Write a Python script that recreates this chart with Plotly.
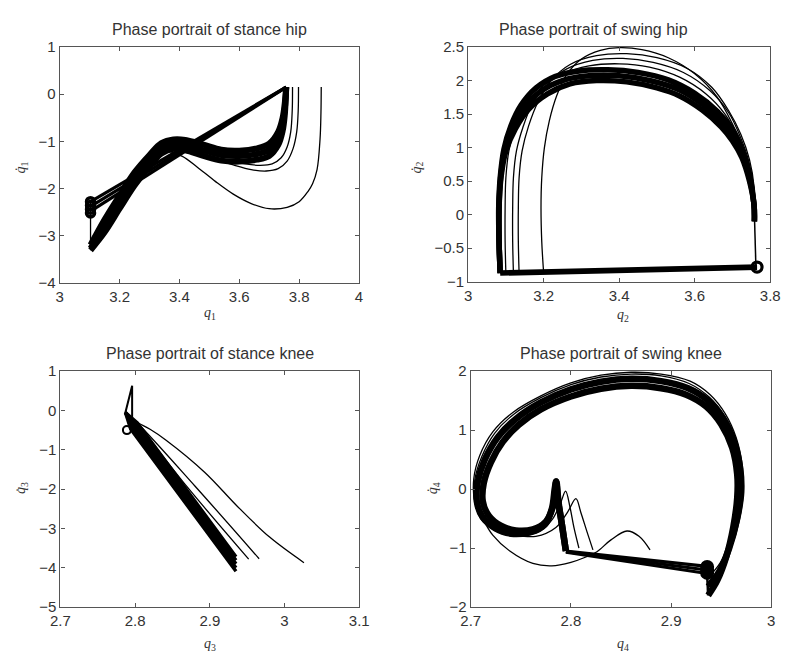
import plotly.graph_objects as go

# ---------------- Stance hip (q1) ----------------
st_hip_fan_start_x = [3.106, 3.106, 3.106]
st_hip_fan_start_y = [-2.27, -2.37, -2.47]
st_hip_tip_x = 3.757
st_hip_tip_y = 0.15

st_hip_band_x = [3.757, 3.752, 3.745, 3.73, 3.70, 3.66, 3.60, 3.54, 3.48, 3.42, 3.38, 3.34, 3.30, 3.25, 3.20, 3.15, 3.103]
st_hip_band_hi_y = [0.15, -0.2, -0.5, -0.8, -1.05, -1.15, -1.2, -1.18, -1.07, -0.97, -0.96, -1.04, -1.29, -1.66, -2.15, -2.66, -3.2]
st_hip_band_mid_y = [0.15, -0.33, -0.63, -0.94, -1.18, -1.27, -1.31, -1.29, -1.19, -1.08, -1.06, -1.15, -1.41, -1.8, -2.29, -2.8, -3.27]
st_hip_band_lo_y = [0.15, -0.45, -0.78, -1.08, -1.31, -1.39, -1.43, -1.41, -1.31, -1.19, -1.16, -1.26, -1.53, -1.94, -2.43, -2.93, -3.31]

st_hip_t1_x = [3.778, 3.777, 3.772, 3.76, 3.74, 3.71, 3.67, 3.62, 3.56, 3.50, 3.45, 3.41]
st_hip_t1_y = [0.15, -0.35, -0.8, -1.12, -1.35, -1.48, -1.51, -1.48, -1.4, -1.3, -1.2, -1.1]
st_hip_t2_x = [3.798, 3.797, 3.792, 3.78, 3.76, 3.73, 3.69, 3.64, 3.58, 3.51, 3.45, 3.40]
st_hip_t2_y = [0.15, -0.35, -0.8, -1.15, -1.42, -1.58, -1.63, -1.6, -1.5, -1.36, -1.24, -1.12]
st_hip_t3_x = [3.874, 3.873, 3.87, 3.86, 3.845, 3.83, 3.80, 3.76, 3.70, 3.64, 3.58, 3.52, 3.46, 3.41, 3.37]
st_hip_t3_y = [0.15, -0.4, -0.95, -1.6, -1.9, -2.06, -2.28, -2.4, -2.43, -2.32, -2.12, -1.85, -1.55, -1.32, -1.24]

st_hip_jump_x = [3.103, 3.103]
st_hip_jump_y = [-3.31, -2.25]
st_hip_start_x = [3.103, 3.103, 3.103, 3.103]
st_hip_start_y = [-2.28, -2.36, -2.44, -2.52]

# ---------------- Swing hip (q2) ----------------
sw_hip_base1_x = [3.085, 3.765]
sw_hip_base1_y = [-0.855, -0.765]
sw_hip_base2_x = [3.085, 3.765]
sw_hip_base2_y = [-0.885, -0.80]

sw_hip_lb1_x = [3.085, 3.082, 3.082, 3.087, 3.10, 3.125, 3.16, 3.21, 3.27, 3.34, 3.42, 3.50, 3.56, 3.62, 3.67, 3.70, 3.725, 3.745, 3.757, 3.758]
sw_hip_lb1_y = [-0.87, -0.4, 0.1, 0.55, 0.95, 1.28, 1.57, 1.8, 1.95, 2.0, 1.98, 1.89, 1.77, 1.56, 1.31, 1.1, 0.85, 0.5, 0.15, -0.1]
sw_hip_lb2_x = [3.085, 3.082, 3.082, 3.086, 3.098, 3.12, 3.15, 3.195, 3.25, 3.32, 3.40, 3.48, 3.56, 3.62, 3.67, 3.70, 3.725, 3.745, 3.757, 3.758]
sw_hip_lb2_y = [-0.87, -0.4, 0.1, 0.55, 0.97, 1.3, 1.6, 1.85, 2.0, 2.07, 2.07, 2.0, 1.86, 1.65, 1.4, 1.18, 0.92, 0.55, 0.15, -0.1]
sw_hip_lb3_x = [3.085, 3.082, 3.081, 3.085, 3.095, 3.113, 3.14, 3.18, 3.23, 3.29, 3.37, 3.45, 3.53, 3.60, 3.66, 3.70, 3.725, 3.745, 3.757, 3.758]
sw_hip_lb3_y = [-0.87, -0.4, 0.1, 0.55, 0.98, 1.32, 1.63, 1.89, 2.06, 2.14, 2.16, 2.12, 2.01, 1.81, 1.54, 1.27, 0.98, 0.6, 0.15, -0.1]

sw_hip_tc1_x = [3.10, 3.098, 3.098, 3.10, 3.108, 3.125, 3.155, 3.195, 3.25, 3.32, 3.40, 3.48, 3.56, 3.63, 3.68, 3.715, 3.74, 3.755, 3.758]
sw_hip_tc1_y = [-0.87, -0.4, 0.1, 0.55, 0.95, 1.3, 1.62, 1.9, 2.1, 2.22, 2.25, 2.2, 2.05, 1.8, 1.5, 1.15, 0.8, 0.4, 0.0]
sw_hip_tc2_x = [3.12, 3.118, 3.118, 3.12, 3.128, 3.145, 3.17, 3.21, 3.26, 3.33, 3.41, 3.49, 3.57, 3.64, 3.69, 3.72, 3.743, 3.756, 3.758]
sw_hip_tc2_y = [-0.87, -0.4, 0.1, 0.55, 0.95, 1.3, 1.65, 1.95, 2.17, 2.3, 2.33, 2.27, 2.12, 1.85, 1.52, 1.17, 0.8, 0.4, 0.0]
sw_hip_tc3_x = [3.135, 3.133, 3.133, 3.135, 3.143, 3.16, 3.185, 3.22, 3.27, 3.34, 3.42, 3.50, 3.58, 3.645, 3.69, 3.722, 3.745, 3.757, 3.758]
sw_hip_tc3_y = [-0.87, -0.4, 0.1, 0.55, 0.95, 1.32, 1.68, 2.0, 2.24, 2.37, 2.4, 2.34, 2.18, 1.9, 1.55, 1.2, 0.82, 0.42, 0.0]
sw_hip_tt_x = [3.2, 3.195, 3.193, 3.195, 3.202, 3.215, 3.235, 3.26, 3.30, 3.35, 3.40, 3.46, 3.53, 3.60, 3.66, 3.70, 3.73, 3.75, 3.758]
sw_hip_tt_y = [-0.87, -0.4, 0.1, 0.55, 1.0, 1.4, 1.78, 2.08, 2.32, 2.45, 2.49, 2.46, 2.34, 2.1, 1.75, 1.35, 0.95, 0.5, 0.0]

sw_hip_vert_x = [3.758, 3.762]
sw_hip_vert_y = [0.0, -0.78]
sw_hip_start_x = [3.765]
sw_hip_start_y = [-0.78]

# ---------------- Stance knee (q3) ----------------
st_knee_spike_x = [2.803, 2.787, 2.796, 2.796]
st_knee_spike_y = [-0.32, -0.05, 0.63, -0.25]

st_knee_b1_x = [2.787, 2.794, 2.935]
st_knee_b1_y = [-0.05, -0.47, -4.09]
st_knee_b2_x = [2.787, 2.796, 2.935]
st_knee_b2_y = [-0.05, -0.43, -4.0]
st_knee_b3_x = [2.787, 2.798, 2.935]
st_knee_b3_y = [-0.05, -0.39, -3.9]
st_knee_b4_x = [2.787, 2.800, 2.935]
st_knee_b4_y = [-0.05, -0.35, -3.81]
st_knee_b5_x = [2.787, 2.803, 2.935]
st_knee_b5_y = [-0.05, -0.32, -3.72]

st_knee_t1_x = [2.787, 2.80, 2.82, 2.841, 2.893, 2.937, 2.98, 3.026]
st_knee_t1_y = [-0.05, -0.27, -0.48, -0.75, -1.57, -2.44, -3.22, -3.87]
st_knee_t2_x = [2.787, 2.803, 2.88, 2.966]
st_knee_t2_y = [-0.05, -0.32, -1.92, -3.77]
st_knee_t3_x = [2.787, 2.802, 2.87, 2.952]
st_knee_t3_y = [-0.05, -0.33, -1.95, -3.78]

st_knee_start_x = [2.789]
st_knee_start_y = [-0.5]

# ---------------- Swing knee (q4) ----------------
sw_knee_m1_x = [2.937, 2.946, 2.955, 2.962, 2.966, 2.966, 2.961, 2.95, 2.935, 2.915, 2.89, 2.86, 2.83, 2.80, 2.77, 2.748, 2.732, 2.72, 2.713, 2.712, 2.718, 2.73, 2.745, 2.762, 2.775, 2.782, 2.7845, 2.7855, 2.7875, 2.791, 2.795]
sw_knee_m1_y = [-1.8, -1.55, -1.15, -0.65, -0.15, 0.25, 0.7, 1.1, 1.4, 1.6, 1.71, 1.75, 1.7, 1.57, 1.35, 1.09, 0.8, 0.45, 0.1, -0.2, -0.45, -0.62, -0.7, -0.68, -0.55, -0.3, 0.0, 0.13, -0.2, -0.6, -1.05]
sw_knee_m2_x = [2.937, 2.948, 2.958, 2.966, 2.97, 2.969, 2.963, 2.952, 2.937, 2.917, 2.89, 2.86, 2.83, 2.80, 2.77, 2.745, 2.727, 2.714, 2.707, 2.706, 2.712, 2.725, 2.742, 2.76, 2.774, 2.781, 2.7838, 2.7852, 2.7872, 2.791, 2.795]
sw_knee_m2_y = [-1.65, -1.4, -1.0, -0.5, -0.05, 0.35, 0.8, 1.2, 1.5, 1.71, 1.83, 1.87, 1.82, 1.69, 1.47, 1.19, 0.88, 0.5, 0.12, -0.2, -0.48, -0.66, -0.75, -0.73, -0.6, -0.33, 0.0, 0.13, -0.2, -0.6, -1.05]

sw_knee_o1_x = [2.937, 2.949, 2.96, 2.968, 2.971, 2.97, 2.964, 2.953, 2.938, 2.918, 2.89, 2.86, 2.83, 2.80, 2.77, 2.743, 2.724, 2.711, 2.704, 2.704, 2.71, 2.723, 2.74, 2.758, 2.772, 2.782, 2.79, 2.7947, 2.799, 2.803, 2.808]
sw_knee_o1_y = [-1.5, -1.25, -0.85, -0.4, 0.0, 0.4, 0.85, 1.25, 1.56, 1.79, 1.92, 1.95, 1.9, 1.77, 1.55, 1.27, 0.95, 0.55, 0.15, -0.2, -0.5, -0.7, -0.8, -0.78, -0.68, -0.5, -0.22, -0.035, -0.3, -0.65, -1.0]

sw_knee_o2_x = [2.94, 2.951, 2.962, 2.969, 2.972, 2.971, 2.965, 2.954, 2.939, 2.919, 2.89, 2.86, 2.83, 2.80, 2.77, 2.742, 2.722, 2.709, 2.703, 2.704, 2.712, 2.722, 2.739, 2.762, 2.781, 2.80, 2.815, 2.826, 2.84, 2.856, 2.868, 2.879]
sw_knee_o2_y = [-1.7, -1.3, -0.9, -0.45, -0.05, 0.4, 0.87, 1.28, 1.6, 1.83, 1.95, 1.98, 1.93, 1.8, 1.58, 1.3, 0.97, 0.57, 0.17, -0.2, -0.5, -0.78, -1.05, -1.26, -1.3, -1.24, -1.15, -1.06, -0.86, -0.71, -0.8, -1.03]

sw_knee_p2_x = [2.745, 2.765, 2.785, 2.797, 2.805, 2.81, 2.816, 2.822]
sw_knee_p2_y = [-0.78, -0.8, -0.65, -0.38, -0.16, -0.4, -0.72, -1.03]

sw_knee_s1_x = [2.795, 2.936]
sw_knee_s1_y = [-1.05, -1.31]
sw_knee_s2_x = [2.795, 2.936]
sw_knee_s2_y = [-1.06, -1.37]
sw_knee_s3_x = [2.795, 2.936]
sw_knee_s3_y = [-1.07, -1.43]
sw_knee_wedge_x = [2.936, 2.937]
sw_knee_wedge_y = [-1.45, -1.8]
sw_knee_start_x = [2.936, 2.936, 2.936]
sw_knee_start_y = [-1.32, -1.37, -1.42]

fig = go.Figure()


def line(xs, ys, ax, w, shape="spline"):
    fig.add_trace(go.Scatter(
        x=xs, y=ys, mode="lines", xaxis="x" + ax, yaxis="y" + ax,
        line=dict(color="black", width=w, shape=shape, smoothing=1.0),
        showlegend=False, hoverinfo="skip"))


def rings(xs, ys, ax, size, w):
    fig.add_trace(go.Scatter(
        x=xs, y=ys, mode="markers", xaxis="x" + ax, yaxis="y" + ax,
        marker=dict(symbol="circle-open", size=size, color="black", line=dict(width=w, color="black")),
        showlegend=False, hoverinfo="skip"))


# stance hip
for sx, sy in zip(st_hip_fan_start_x, st_hip_fan_start_y):
    line([sx, st_hip_tip_x], [sy, st_hip_tip_y], "", 3.2, "linear")
for by in (st_hip_band_hi_y, st_hip_band_mid_y, st_hip_band_lo_y):
    line(st_hip_band_x, by, "", 6)
line(st_hip_t1_x, st_hip_t1_y, "", 1.3)
line(st_hip_t2_x, st_hip_t2_y, "", 1.3)
line(st_hip_t3_x, st_hip_t3_y, "", 1.3)
line(st_hip_jump_x, st_hip_jump_y, "", 1.3, "linear")
rings(st_hip_start_x, st_hip_start_y, "", 8, 3.5)

# swing hip
line(sw_hip_base1_x, sw_hip_base1_y, "2", 3.5, "linear")
line(sw_hip_base2_x, sw_hip_base2_y, "2", 3.5, "linear")
for xs, ys in ((sw_hip_lb1_x, sw_hip_lb1_y), (sw_hip_lb2_x, sw_hip_lb2_y), (sw_hip_lb3_x, sw_hip_lb3_y)):
    line(xs, ys, "2", 5.5)
for xs, ys in ((sw_hip_tc1_x, sw_hip_tc1_y), (sw_hip_tc2_x, sw_hip_tc2_y), (sw_hip_tc3_x, sw_hip_tc3_y), (sw_hip_tt_x, sw_hip_tt_y)):
    line(xs, ys, "2", 1.3)
line(sw_hip_vert_x, sw_hip_vert_y, "2", 1.5, "linear")
rings(sw_hip_start_x, sw_hip_start_y, "2", 10, 3.2)

# stance knee
line(st_knee_spike_x, st_knee_spike_y, "3", 2.0, "linear")
for xs, ys in ((st_knee_b1_x, st_knee_b1_y), (st_knee_b2_x, st_knee_b2_y), (st_knee_b3_x, st_knee_b3_y),
               (st_knee_b4_x, st_knee_b4_y), (st_knee_b5_x, st_knee_b5_y)):
    line(xs, ys, "3", 3.4, "linear")
line(st_knee_t1_x, st_knee_t1_y, "3", 1.3)
line(st_knee_t2_x, st_knee_t2_y, "3", 1.3)
line(st_knee_t3_x, st_knee_t3_y, "3", 1.3)
rings(st_knee_start_x, st_knee_start_y, "3", 8, 2)

# swing knee
line(sw_knee_m1_x, sw_knee_m1_y, "4", 6.5)
line(sw_knee_m2_x, sw_knee_m2_y, "4", 6.5)
line(sw_knee_o1_x, sw_knee_o1_y, "4", 1.3)
line(sw_knee_o2_x, sw_knee_o2_y, "4", 1.3)
line(sw_knee_p2_x, sw_knee_p2_y, "4", 1.3)
for xs, ys in ((sw_knee_s1_x, sw_knee_s1_y), (sw_knee_s2_x, sw_knee_s2_y), (sw_knee_s3_x, sw_knee_s3_y)):
    line(xs, ys, "4", 3.2, "linear")
line(sw_knee_wedge_x, sw_knee_wedge_y, "4", 2.5, "linear")
rings(sw_knee_start_x, sw_knee_start_y, "4", 10, 4)

FONT = "Liberation Sans, Arial, Helvetica, sans-serif"
axis_common = dict(showgrid=False, zeroline=False, showline=True, linecolor="#555", linewidth=1.2,
                   mirror="allticks", ticks="inside", ticklen=4, tickwidth=1, tickcolor="#555",
                   tickfont=dict(family=FONT, size=15, color="#333"), autorange=False)

fig.update_layout(
    width=792, height=659, autosize=False,
    margin=dict(l=0, r=0, t=0, b=0),
    paper_bgcolor="white", plot_bgcolor="white",
    xaxis=dict(domain=[0.0644, 0.452], range=[3, 4], tick0=3, dtick=0.2, anchor="y", **axis_common),
    yaxis=dict(domain=[0.5736, 0.9408], range=[-4, 1], tick0=-4, dtick=1, anchor="x", **axis_common),
    xaxis2=dict(domain=[0.5934, 0.9848], range=[3, 3.8], tick0=3, dtick=0.2, anchor="y2", **axis_common),
    yaxis2=dict(domain=[0.5751, 0.9408], range=[-1, 2.5], tick0=-1, dtick=0.5, anchor="x2", **axis_common),
    xaxis3=dict(domain=[0.0653, 0.4524], range=[2.7, 3.1], tick0=2.7, dtick=0.1, anchor="y3", **axis_common),
    yaxis3=dict(domain=[0.0683, 0.436], range=[-5, 1], tick0=-5, dtick=1, anchor="x3", **axis_common),
    xaxis4=dict(domain=[0.5968, 0.9861], range=[2.7, 3.0], tick0=2.7, dtick=0.1, anchor="y4", **axis_common),
    yaxis4=dict(domain=[0.0683, 0.436], range=[-2, 2], tick0=-2, dtick=1, anchor="x4", **axis_common),
)

titles = [
    ("Phase portrait of stance hip", 0.258, 0.968),
    ("Phase portrait of swing hip", 0.756, 0.968),
    ("Phase portrait of stance knee", 0.259, 0.463),
    ("Phase portrait of swing knee", 0.791, 0.463),
]
for text, x, y in titles:
    fig.add_annotation(text=text, x=x, y=y, xref="paper", yref="paper", showarrow=False,
                       xanchor="center", yanchor="middle", font=dict(family=FONT, size=16, color="#333"))

SERIF = "Liberation Serif, Times New Roman, serif"
xlabels = [("q", "1", 0.2588, 0.525), ("q", "2", 0.794, 0.522), ("q", "3", 0.2588, 0.0106), ("q", "4", 0.794, 0.0106)]
for base, sub, x, y in xlabels:
    fig.add_annotation(text="<i>%s</i><sub>%s</sub>" % (base, sub), x=x, y=y, xref="paper", yref="paper",
                       showarrow=False, xanchor="center", yanchor="middle", font=dict(family=SERIF, size=14, color="#333"))
ylabels = [("1", 0.0152, 0.7527), ("2", 0.5278, 0.754), ("3", 0.0152, 0.2534), ("4", 0.548, 0.2534)]
for sub, x, y in ylabels:
    fig.add_annotation(text="<i>q\u0307</i><sub>%s</sub>" % sub, x=x, y=y, xref="paper", yref="paper",
                       showarrow=False, xanchor="center", yanchor="middle", textangle=-90,
                       font=dict(family=SERIF, size=14, color="#333"))

fig.write_html("out.html")
